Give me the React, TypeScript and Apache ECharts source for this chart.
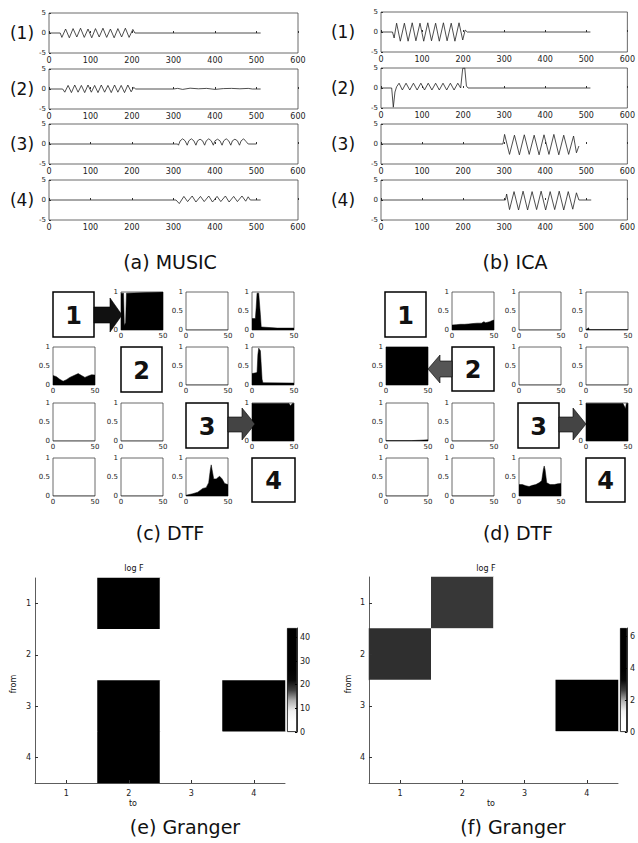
import React, { useEffect, useRef } from "react";
import * as echarts from "echarts";

const FONT = "DejaVu Sans";

// ---------- time-series panels: [sample, amplitude] ----------
const MUSIC_1 = [[0,0],[27,0],[31,-1.1],[40,1.0],[49,-1.2],[58,1.1],[67,-1.0],[76,1.2],[85,-1.1],[94,1.0],[103,-1.2],[112,1.1],[121,-1.0],[130,1.2],[139,-1.1],[148,1.0],[157,-1.2],[166,1.1],[175,-1.0],[184,1.2],[193,-1.1],[202,0.9],[207,0],[510,0]];
const MUSIC_2 = [[0,0],[33,0],[38,-0.8],[46,0.9],[54,-0.9],[62,1.0],[70,-0.8],[78,0.9],[86,-0.9],[94,1.0],[102,-0.8],[110,0.9],[118,-0.9],[126,1.0],[134,-0.8],[142,0.9],[150,-0.9],[158,1.0],[166,-0.8],[174,0.9],[182,-0.9],[190,1.0],[198,-0.7],[204,0.4],[209,0],[300,0],[310,0.15],[322,-0.1],[340,0.2],[360,0.05],[380,0.15],[400,-0.1],[420,0.1],[440,0.15],[460,0.05],[480,0.15],[490,0],[510,0]];
const MUSIC_3 = [[0,0],[310,0],[312,-0.3],[316,0.8],[322,1.3],[328,0.8],[333,-0.3],[337,0.8],[343,1.3],[349,0.8],[354,-0.3],[358,0.8],[364,1.2],[370,0.8],[375,-0.3],[379,0.8],[385,1.3],[391,0.8],[396,-0.3],[400,0.8],[406,1.2],[412,0.8],[417,-0.3],[421,0.8],[427,1.3],[433,0.8],[438,-0.3],[442,0.8],[448,1.2],[454,0.8],[459,-0.3],[463,0.8],[469,1.3],[475,0.6],[480,0],[500,0]];
const MUSIC_4 = [[0,0],[306,0],[314,-0.9],[325,0.9],[334,-0.4],[345,1.0],[354,-0.5],[365,0.9],[374,-0.4],[385,1.0],[394,-0.5],[405,0.9],[414,-0.4],[425,1.0],[434,-0.5],[445,0.9],[454,-0.4],[465,1.0],[474,-0.3],[480,0.8],[485,0],[510,0]];

const ICA_1 = [[0,0],[28,0],[32,-1.5],[38,2.2],[47,-2.3],[57,2.2],[66,-2.3],[76,2.3],[85,-2.2],[95,2.2],[104,-2.3],[114,2.3],[123,-2.2],[133,2.2],[142,-2.3],[152,2.3],[161,-2.2],[171,2.2],[180,-2.3],[190,2.3],[199,-2.0],[205,0.5],[210,0],[510,0]];
const ICA_2 = [[0,0],[26,0],[30,-4.8],[34,-1.0],[38,0.3],[44,1.2],[52,-0.5],[61,1.2],[70,-0.5],[79,1.2],[88,-0.5],[97,1.2],[106,-0.5],[115,1.2],[124,-0.5],[133,1.2],[142,-0.5],[151,1.2],[160,-0.5],[169,1.2],[178,-0.5],[187,1.2],[194,0],[199,4.9],[204,5.0],[208,0.5],[212,0],[510,0]];
const ICA_3 = [[0,0],[297,0],[301,2.4],[313,-2.6],[325,2.2],[337,-2.7],[349,2.3],[361,-2.6],[373,2.2],[385,-2.7],[397,2.3],[409,-2.6],[421,2.4],[433,-2.7],[445,2.2],[457,-2.6],[469,2.0],[476,-2.2],[482,-0.5]];
const ICA_4 = [[0,0],[303,0],[306,1.5],[313,-2.4],[324,2.1],[335,-2.5],[346,2.2],[357,-2.5],[368,2.1],[379,-2.4],[390,2.2],[401,-2.5],[412,2.1],[423,-2.4],[434,2.2],[445,-2.5],[456,2.1],[467,-2.3],[476,1.8],[482,0],[512,0]];

// ---------- DTF cells: [frequency, DTF] ----------
const EMPTY = [[0,0],[50,0]];
const C12 = [[0,0.97],[3,0.97],[4,0.12],[5.5,0.2],[6.5,0.97],[50,1]];
const C14 = [[0,0.3],[4,0.3],[5,0.6],[6,0.97],[8,0.97],[10,0.4],[11,0.08],[30,0.05],[50,0.05]];
const C21 = [[0,0.25],[4,0.22],[8,0.15],[12,0.1],[16,0.14],[20,0.2],[25,0.25],[30,0.3],[34,0.25],[38,0.2],[42,0.24],[46,0.27],[50,0.26]];
const C24 = [[0,0.3],[6,0.33],[7,0.8],[8,0.97],[10,0.9],[12,0.15],[13,0.06],[50,0.05]];
const C34 = [[0,0.99],[44,0.99],[46,0.93],[48,0.99],[50,0.99]];
const C43 = [[0,0.02],[8,0.06],[14,0.1],[20,0.2],[24,0.22],[27,0.35],[29,0.7],[30,0.82],[31,0.7],[33,0.45],[36,0.45],[40,0.52],[43,0.45],[46,0.33],[50,0.3]];

const D12 = [[0,0.13],[5,0.14],[10,0.15],[15,0.15],[20,0.16],[25,0.17],[30,0.18],[35,0.18],[38,0.22],[40,0.19],[45,0.22],[48,0.25],[50,0.26]];
const D14 = [[0,0.01],[2,0.04],[3,0.06],[4,0.01],[50,0.01]];
const D21 = [[0,1],[50,1]];
const D31 = [[0,0.01],[30,0.01],[40,0.02],[50,0.03]];
const D34 = [[0,0.99],[44,0.99],[46,0.9],[47,0.85],[48,0.99],[50,0.99]];
const D43 = [[0,0.3],[4,0.3],[8,0.27],[12,0.25],[16,0.28],[20,0.3],[24,0.35],[27,0.4],[29,0.7],[30,0.79],[31,0.7],[33,0.35],[37,0.3],[42,0.3],[46,0.32],[50,0.33]];

const DTF_MUSIC = [
  [null, C12, EMPTY, C14],
  [C21, null, EMPTY, C24],
  [EMPTY, EMPTY, null, C34],
  [EMPTY, EMPTY, C43, null],
];
const DTF_ICA = [
  [null, D12, EMPTY, D14],
  [D21, null, EMPTY, EMPTY],
  [D31, EMPTY, null, D34],
  [EMPTY, EMPTY, D43, null],
];

// ---------- Granger (rows = from, cols = to) ----------
const CHANNELS = ["1", "2", "3", "4"];
const GRANGER_E = [
  [0, 42, 0, 0],
  [0, 0, 0, 0],
  [0, 42, 0, 42],
  [0, 42, 0, 0],
];
const GRANGER_F = [
  [0, 2.7, 0, 0],
  [2.8, 0, 0, 0],
  [0, 0, 0, 6.3],
  [0, 0, 0, 0],
];
const CBAR_E = { max: 44, interval: 10 };
const CBAR_F = { max: 6.5, interval: 2 };
const GRAY_MAP = ["#ffffff", "#ffffff", "#f0f0f0", "#b0b0b0", "#404040", "#080808", "#000000", "#000000", "#000000", "#000000", "#000000"];

function buildOption() {
  const grid: any[] = [], xAxis: any[] = [], yAxis: any[] = [], series: any[] = [], graphic: any[] = [], visualMap: any[] = [];
  const add = (g: any, xa: any, ya: any, ss: any[]) => {
    const i = grid.length;
    grid.push({ containLabel: false, ...g });
    xAxis.push({ gridIndex: i, ...xa });
    yAxis.push({ gridIndex: i, ...ya });
    const first = series.length;
    ss.forEach((s) => series.push({ xAxisIndex: i, yAxisIndex: i, silent: true, ...s }));
    return first;
  };
  const lab = (size: number, margin: number) => ({ fontSize: size, color: "#222", fontFamily: FONT, margin });
  const text = (x: number, y: number, str: string, size: number, extra: any = {}) => ({
    type: "text", x, y, z: 100,
    style: { text: str, font: `${size}px ${FONT}`, fill: "#111", align: "center", verticalAlign: "middle", textAlign: "center", textVerticalAlign: "middle", ...(extra.style || {}) },
    ...(extra.el || {}),
  });

  // time series
  const tsPanels = [
    { left: 49, width: 249, tops: [13, 69, 124, 180], data: [MUSIC_1, MUSIC_2, MUSIC_3, MUSIC_4], labelX: 22 },
    { left: 381, width: 250, tops: [12, 68, 124, 180], data: [ICA_1, ICA_2, ICA_3, ICA_4], labelX: 343 },
  ];
  tsPanels.forEach((p) =>
    p.data.forEach((d, i) => {
      const top = p.tops[i];
      add(
        { left: p.left, top, width: p.width, height: 40, show: true, borderColor: "#444", borderWidth: 0.8 },
        { type: "value", min: 0, max: 600, interval: 100, axisLine: { show: false }, axisTick: { inside: true, length: 2, lineStyle: { color: "#333" } }, axisLabel: lab(8, 3), splitLine: { show: false } },
        { type: "value", min: -5, max: 5, interval: 5, axisLine: { show: false }, axisTick: { inside: true, length: 2, lineStyle: { color: "#333" } }, axisLabel: lab(7, 3), splitLine: { show: false } },
        [{ type: "line", data: d, symbol: "none", showSymbol: false, lineStyle: { width: 0.8, color: "#222" } }]
      );
      graphic.push(text(p.labelX, top + 20, `(${i + 1})`, 17));
    })
  );

  // DTF grids
  const DTF_ROWS = [292, 347, 403, 458];
  const dtfPanels = [
    { cols: [53, 121, 186, 252], cells: DTF_MUSIC, boxes: [[53, 292, 41, 45], [121, 347, 41, 45], [186, 403, 42, 45], [252, 458, 43, 44]] },
    { cols: [386, 452, 519, 586], cells: DTF_ICA, boxes: [[385, 292, 41, 45], [452, 347, 42, 44], [518, 403, 41, 45], [586, 458, 39, 44]] },
  ];
  dtfPanels.forEach((p) => {
    p.cells.forEach((row, r) =>
      row.forEach((cell, c) => {
        if (!cell) return;
        add(
          { left: p.cols[c], top: DTF_ROWS[r], width: 42, height: 38, show: true, borderColor: "#444", borderWidth: 0.8 },
          { type: "value", min: 0, max: 50, interval: 50, axisLine: { show: false }, axisTick: { show: false }, axisLabel: lab(7, 2), splitLine: { show: false } },
          { type: "value", min: 0, max: 1, interval: 0.5, axisLine: { show: false }, axisTick: { show: false }, axisLabel: lab(7, 3), splitLine: { show: false } },
          [{ type: "line", data: cell, symbol: "none", showSymbol: false, lineStyle: { width: 0.5, color: "#000" }, areaStyle: { color: "#000", opacity: 1 } }]
        );
      })
    );
    p.boxes.forEach((b, k) => {
      graphic.push({ type: "rect", z: 100, shape: { x: b[0], y: b[1], width: b[2], height: b[3] }, style: { fill: "#fff", stroke: "#000", lineWidth: 1.5 } });
      graphic.push(text(b[0] + b[2] / 2, b[1] + b[3] / 2 + 1, String(k + 1), 24, { style: { font: `bold 24px ${FONT}` } }));
    });
  });

  // arrows
  const arrows = [
    { pts: [[94, 307], [110, 307], [110, 298], [122, 315], [110, 332], [110, 323], [94, 323]], fill: "#111" },
    { pts: [[228, 417], [242, 417], [242, 408], [255, 424], [242, 440], [242, 432], [228, 432]], fill: "#444" },
    { pts: [[452, 361], [440, 361], [440, 355], [428, 369], [440, 383], [440, 377], [452, 377]], fill: "#555" },
    { pts: [[559, 417], [573, 417], [573, 408], [586, 424], [573, 440], [573, 432], [559, 432]], fill: "#444" },
  ];
  arrows.forEach((a) => graphic.push({ type: "polygon", z: 100, shape: { points: a.pts }, style: { fill: a.fill, stroke: "#000", lineWidth: 0.6 } }));

  // Granger heatmaps
  const granger = [
    { m: GRANGER_E, left: 35, top: 578, width: 250, height: 205, cb: CBAR_E, cbLeft: 287, titleX: 134, toX: 133, fromX: 13 },
    { m: GRANGER_F, left: 369, top: 577, width: 249, height: 206, cb: CBAR_F, cbLeft: 620, titleX: 486, toX: 491, fromX: 348 },
  ];
  granger.forEach((g) => {
    const data: any[] = [];
    g.m.forEach((row, r) => row.forEach((v, c) => data.push([c, r, v])));
    const si = add(
      { left: g.left, top: g.top, width: g.width, height: g.height },
      { type: "category", data: CHANNELS, z: 10, axisLine: { show: true, onZero: false, lineStyle: { color: "#333", width: 0.8 } }, axisTick: { show: true, alignWithLabel: true, inside: true, length: 3, lineStyle: { color: "#333" } }, axisLabel: lab(8, 6), splitLine: { show: false }, splitArea: { show: false } },
      { type: "category", data: CHANNELS, inverse: true, z: 10, axisLine: { show: true, onZero: false, lineStyle: { color: "#333", width: 0.8 } }, axisTick: { show: true, alignWithLabel: true, inside: true, length: 3, lineStyle: { color: "#333" } }, axisLabel: lab(8, 4), splitLine: { show: false }, splitArea: { show: false } },
      [{ type: "heatmap", data, itemStyle: { borderWidth: 0 } }]
    );
    visualMap.push({ type: "continuous", show: false, seriesIndex: si, min: 0, max: g.cb.max, inRange: { color: GRAY_MAP } });
    // colorbar
    add(
      { left: g.cbLeft, top: 628, width: 10, height: 104 },
      { type: "category", data: ["cb"], show: false },
      { type: "value", min: 0, max: g.cb.max, interval: g.cb.interval, position: "right", z: 10, axisLine: { show: true, lineStyle: { color: "#000", width: 0.8 } }, axisTick: { show: true, inside: true, length: 2 }, axisLabel: { ...lab(8, 3), showMaxLabel: false }, splitLine: { show: false } },
      [{
        type: "bar", data: [g.cb.max], barWidth: "100%",
        itemStyle: {
          borderColor: "#000", borderWidth: 0.8,
          color: { type: "linear", x: 0, y: 1, x2: 0, y2: 0, colorStops: GRAY_MAP.map((col, i) => ({ offset: i / (GRAY_MAP.length - 1), color: col })) },
        },
      }]
    );
    graphic.push(text(g.titleX, 568, "log F", 8));
    graphic.push(text(g.toX, 803, "to", 8));
    graphic.push(text(g.fromX, 684, "from", 8, { el: { rotation: Math.PI / 2 } }));
  });

  // captions
  graphic.push(text(170, 262, "(a) MUSIC", 19));
  graphic.push(text(515, 262, "(b) ICA", 19));
  graphic.push(text(170, 533, "(c) DTF", 19));
  graphic.push(text(518, 533, "(d) DTF", 19));
  graphic.push(text(185, 827, "(e) Granger", 19));
  graphic.push(text(513, 827, "(f) Granger", 19));

  return { animation: false, backgroundColor: "#fff", grid, xAxis, yAxis, series, visualMap, graphic };
}

export default function App() {
  const ref = useRef<HTMLDivElement>(null);
  useEffect(() => {
    const chart = echarts.init(ref.current!, null, { renderer: "svg" });
    chart.setOption(buildOption());
    return () => chart.dispose();
  }, []);
  return <div ref={ref} style={{ position: "absolute", left: 0, top: 0, width: 638, height: 843 }} />;
}
